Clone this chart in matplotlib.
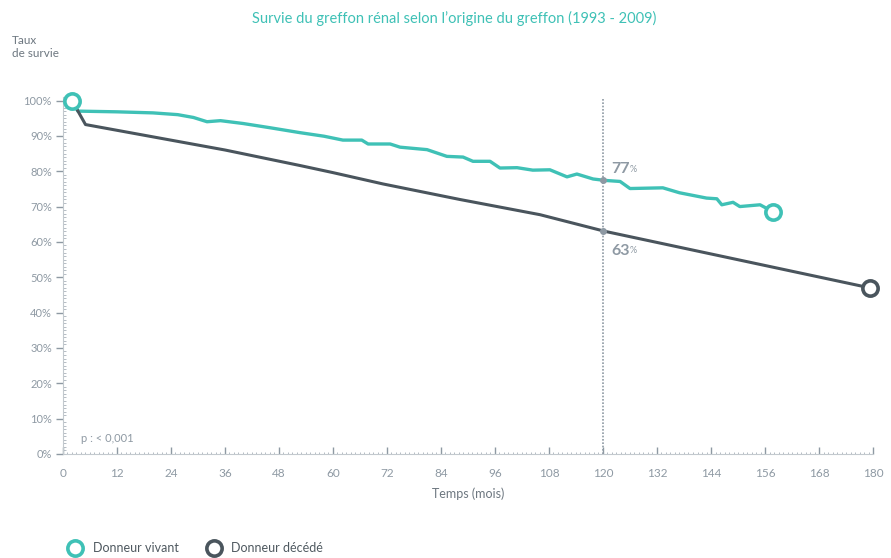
import matplotlib
matplotlib.use("Agg")
import matplotlib.pyplot as plt
from matplotlib.lines import Line2D
from matplotlib.ticker import MultipleLocator

# ── data ────────────────────────────────────────────────────────────────────
vivant_months = [2, 3.3, 12, 20, 25.5, 29, 32, 35, 40, 46, 52.7, 58, 62.2, 66.4,
                 67.8, 72.7, 74.9, 80.9, 85.3, 88.9, 91.1, 94.9, 97.1, 100.9,
                 104.4, 108.2, 112, 114.2, 117.8, 120.4, 123.8, 126, 133.3, 137,
                 143, 145.3, 146.4, 148.9, 150.4, 154.9, 157.8]
vivant_surv = [100, 97.0, 96.8, 96.5, 96.0, 95.2, 94.0, 94.3, 93.5, 92.3, 90.9,
               89.9, 88.8, 88.8, 87.7, 87.7, 86.8, 86.1, 84.2, 84.0, 82.8, 82.8,
               80.9, 81.0, 80.3, 80.4, 78.4, 79.2, 77.8, 77.4, 77.1, 75.1, 75.3,
               73.9, 72.4, 72.2, 70.5, 71.2, 70.0, 70.5, 68.5]

decede_months = [2, 5, 36, 52.7, 60, 71.1, 88.2, 106, 120.4, 179.3]
decede_surv = [100, 93.2, 86.0, 81.6, 79.6, 76.4, 72.0, 67.7, 63.0, 47.0]

x_ticks = list(range(0, 181, 12))
y_ticks = list(range(0, 101, 10))
y_ticklabels = [f"{v}%" for v in y_ticks]

mark_month = 120
mark_vivant = 77
mark_decede = 63

TEAL = "#3fc1b6"
DARK = "#4a555d"
GRAY = "#8e99a3"
TXT = "#6d7780"

plt.rcParams["font.family"] = ["Lato", "DejaVu Sans"]

fig = plt.figure(figsize=(8.91, 5.58), dpi=100)
ax = fig.add_axes([0.0707, 0.1864, 0.9091, 0.6398])

ax.plot(vivant_months, vivant_surv, color=TEAL, lw=2.4, solid_joinstyle="round",
        zorder=3)
ax.plot(decede_months, decede_surv, color=DARK, lw=2.2, zorder=3)
# start / end circles
ax.plot([vivant_months[0]], [vivant_surv[0]], "o", ms=11, mfc="white", mec=TEAL,
        mew=2.6, zorder=5, clip_on=False)
ax.plot([vivant_months[-1]], [vivant_surv[-1]], "o", ms=11, mfc="white", mec=TEAL,
        mew=2.6, zorder=5, clip_on=False)
ax.plot([decede_months[-1]], [decede_surv[-1]], "o", ms=11, mfc="white", mec=DARK,
        mew=2.6, zorder=5, clip_on=False)

# reference line at 10 years
ax.vlines(mark_month, 0, 100.5, colors=GRAY, linestyles=(0, (1, 1)), lw=1.2,
          zorder=2)
ax.plot([mark_month, mark_month], [mark_vivant + 0.4, mark_decede], "o", ms=4,
        color=GRAY, zorder=4)
for val, dy in [(mark_vivant, 3.5), (mark_decede, -5.6)]:
    t = ax.text(mark_month + 1.8, val + dy, f"{val}", color=GRAY, fontsize=11.5,
                fontweight="bold", ha="left", va="center")
    ax.annotate("%", xy=(1, 0.2), xycoords=t, fontsize=6.5, color=GRAY,
                ha="left", va="bottom")

ax.set_xlim(0, 180)
ax.set_ylim(0, 101)
ax.set_xticks(x_ticks)
ax.set_yticks(y_ticks)
ax.set_yticklabels(y_ticklabels)
ax.xaxis.set_minor_locator(MultipleLocator(1))
ax.yaxis.set_minor_locator(MultipleLocator(1))

for s in ["top", "right"]:
    ax.spines[s].set_visible(False)
for s in ["left", "bottom"]:
    ax.spines[s].set_color("#c3c9ce")
    ax.spines[s].set_linewidth(0.8)

ax.tick_params(axis="x", which="major", direction="in", length=5, width=1,
               color=GRAY, labelcolor=GRAY, labelsize=8.5, pad=10)
ax.tick_params(axis="x", which="minor", direction="in", length=1.8, width=0.6,
               color="#a9b2ba")
ax.tick_params(axis="y", which="major", direction="out", length=5, width=1,
               color=GRAY, labelcolor=GRAY, labelsize=8, pad=3)
ax.tick_params(axis="y", which="minor", direction="in", length=1.8, width=0.6,
               color="#a9b2ba")

ax.text(4, 4.5, "p : < 0,001", color=GRAY, fontsize=8, ha="left", va="center")

ax.set_xlabel("Temps (mois)", color=TXT, fontsize=9, labelpad=6)

fig.text(0.013, 0.916, "Taux\nde survie", color=TXT, fontsize=8.5, ha="left",
         va="center", linespacing=1.3)

fig.text(0.51, 0.967, "Survie du greffon rénal selon l’origine du greffon (1993 - 2009)",
         color=TEAL, fontsize=10.5, ha="center", va="center")

handles = [
    Line2D([], [], ls="none", marker="o", ms=11, mfc="white", mec=TEAL, mew=2.6),
    Line2D([], [], ls="none", marker="o", ms=11, mfc="white", mec=DARK, mew=2.6),
]
leg = fig.legend(handles, ["Donneur vivant", "Donneur décédé"], loc="center left",
                 bbox_to_anchor=(0.058, 0.018), ncol=2, frameon=False,
                 handletextpad=0.4, columnspacing=1.8, fontsize=9)
for t in leg.get_texts():
    t.set_color("#4f5960")

fig.savefig("out.png", dpi=100)
